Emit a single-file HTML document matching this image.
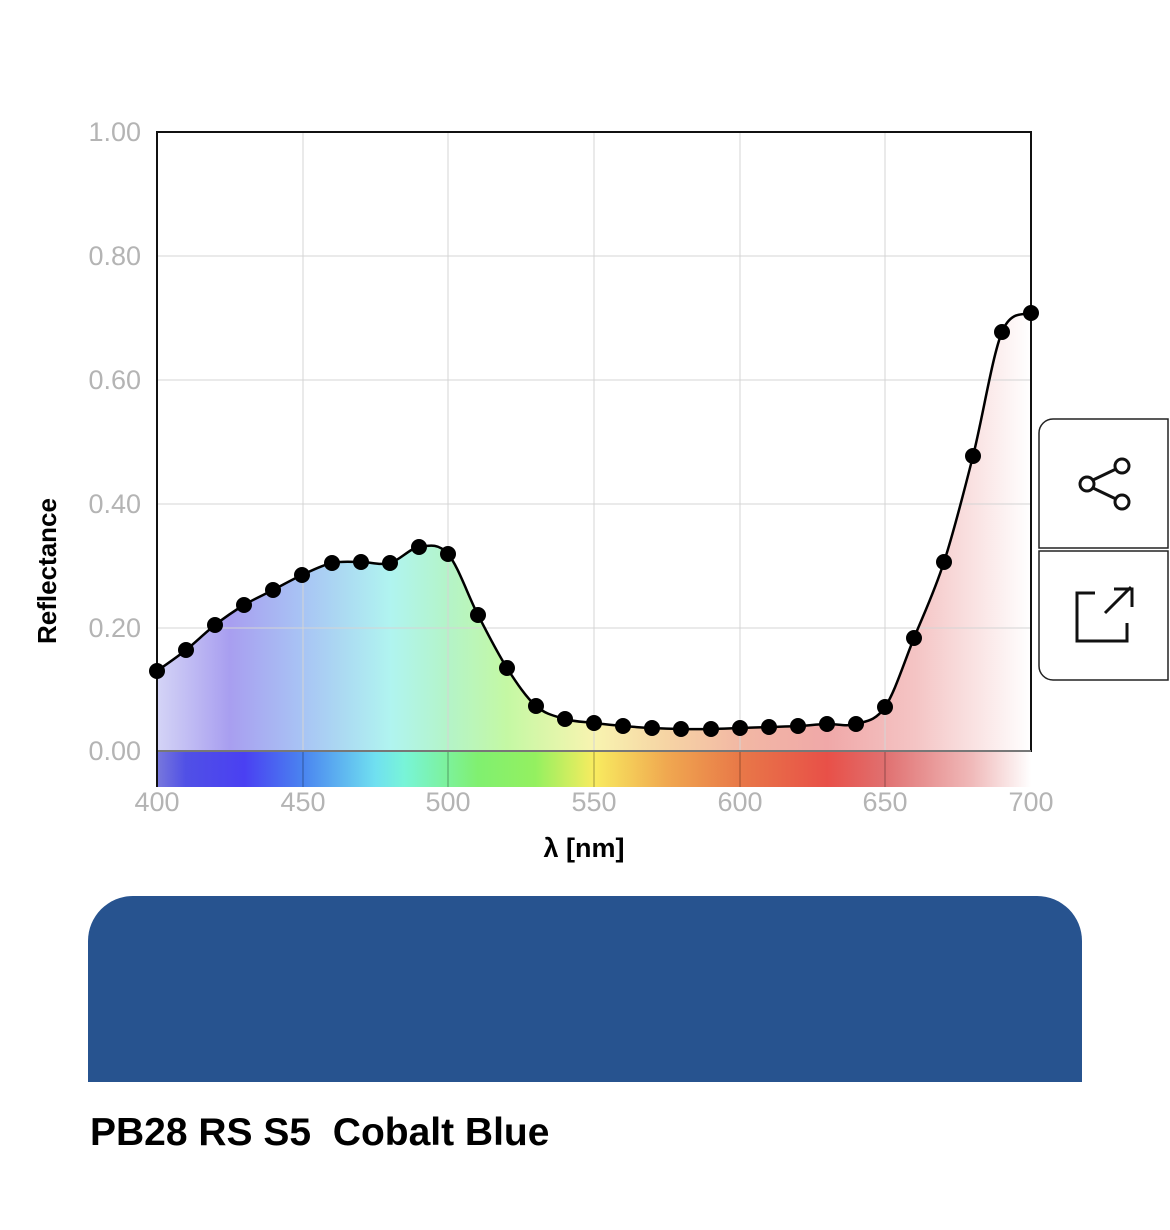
<!DOCTYPE html>
<html><head><meta charset="utf-8"><style>
html,body{margin:0;padding:0;background:#fff;width:1170px;height:1230px;overflow:hidden;font-family:"Liberation Sans",sans-serif}
</style></head><body>
<svg width="1170" height="1230" viewBox="0 0 1170 1230" xmlns="http://www.w3.org/2000/svg" style="position:absolute;left:0;top:0">
<defs>
<linearGradient id="fill" x1="157" x2="1031" y1="0" y2="0" gradientUnits="userSpaceOnUse">
<stop offset="0" stop-color="#d4d4f6"/><stop offset="0.083" stop-color="#a89ef0"/><stop offset="0.167" stop-color="#a8c4f4"/>
<stop offset="0.267" stop-color="#b0f4f0"/><stop offset="0.333" stop-color="#b4f4c8"/><stop offset="0.4" stop-color="#c4f8a4"/>
<stop offset="0.5" stop-color="#f8f4b0"/><stop offset="0.583" stop-color="#f6d4a4"/><stop offset="0.667" stop-color="#f2b8a4"/>
<stop offset="0.767" stop-color="#f0a8a8"/><stop offset="0.867" stop-color="#f4c4c4"/><stop offset="1" stop-color="#ffffff"/>
</linearGradient>
<linearGradient id="bar" x1="157" x2="1031" y1="0" y2="0" gradientUnits="userSpaceOnUse">
<stop offset="0" stop-color="#7878dc"/><stop offset="0.033" stop-color="#5050e6"/><stop offset="0.1" stop-color="#4a40f2"/>
<stop offset="0.167" stop-color="#4a84f0"/><stop offset="0.25" stop-color="#70e0f0"/><stop offset="0.283" stop-color="#78f4d8"/>
<stop offset="0.367" stop-color="#80f070"/><stop offset="0.433" stop-color="#94f060"/><stop offset="0.5" stop-color="#f8ec60"/>
<stop offset="0.583" stop-color="#f0a850"/><stop offset="0.667" stop-color="#e87848"/><stop offset="0.767" stop-color="#e85048"/>
<stop offset="0.833" stop-color="#e07070"/><stop offset="0.933" stop-color="#f0baba"/><stop offset="1" stop-color="#ffffff"/>
</linearGradient>
</defs>
<path id="area" fill="url(#fill)"/>
<g stroke="#d4d4d4" stroke-width="1">
<line x1="157" x2="1031" y1="256" y2="256"/><line x1="157" x2="1031" y1="380" y2="380"/>
<line x1="157" x2="1031" y1="504" y2="504"/><line x1="157" x2="1031" y1="628" y2="628"/>
<line x1="303" x2="303" y1="132" y2="751"/><line x1="448" x2="448" y1="132" y2="751"/>
<line x1="594" x2="594" y1="132" y2="751"/><line x1="740" x2="740" y1="132" y2="751"/>
<line x1="885" x2="885" y1="132" y2="751"/>
</g>
<rect x="157" y="752" width="874" height="35" fill="url(#bar)"/>
<g stroke="rgba(0,0,0,0.35)" stroke-width="1">
<line x1="303" x2="303" y1="752" y2="787"/><line x1="448" x2="448" y1="752" y2="787"/>
<line x1="594" x2="594" y1="752" y2="787"/><line x1="740" x2="740" y1="752" y2="787"/>
<line x1="885" x2="885" y1="752" y2="787"/>
</g>
<rect x="157" y="132" width="874" height="619" fill="none" stroke="#111" stroke-width="2"/>
<line x1="157" x2="1031" y1="751" y2="751" stroke="#777" stroke-width="2"/>
<line x1="157" x2="157" y1="132" y2="787" stroke="#111" stroke-width="2"/>
<path id="curve" fill="none" stroke="#000" stroke-width="2.5"/>
<g id="dots" fill="#000"></g>
<g font-size="27" fill="#b4b4b4" text-anchor="end">
<text x="141" y="141">1.00</text><text x="141" y="265">0.80</text><text x="141" y="389">0.60</text>
<text x="141" y="513">0.40</text><text x="141" y="637">0.20</text><text x="141" y="760">0.00</text>
</g>
<g font-size="27" fill="#b4b4b4" text-anchor="middle">
<text x="157" y="811">400</text><text x="303" y="811">450</text><text x="448" y="811">500</text>
<text x="594" y="811">550</text><text x="740" y="811">600</text><text x="885" y="811">650</text><text x="1031" y="811">700</text>
</g>
<text x="584" y="857" font-size="27" font-weight="bold" text-anchor="middle" fill="#000">λ [nm]</text>
<text transform="translate(56,571) rotate(-90)" font-size="26" font-weight="bold" text-anchor="middle" fill="#000">Reflectance</text>
<path d="M1053,419 H1168 V548 H1039 V433 A14,14 0 0 1 1053,419 Z" fill="#fff" stroke="#222" stroke-width="1.5"/>
<path d="M1039,551 H1168 V680 H1053 A14,14 0 0 1 1039,666 Z" fill="#fff" stroke="#222" stroke-width="1.5"/>
<g fill="none" stroke="#111" stroke-width="3">
<circle cx="1087" cy="484" r="7"/><circle cx="1122" cy="466" r="7"/><circle cx="1122" cy="502" r="7"/>
<line x1="1093" y1="480" x2="1116" y2="469"/><line x1="1093" y1="488" x2="1116" y2="499"/>
<path d="M1095,593 H1077 V641 H1127 V623"/><path d="M1105,613 L1131,587 M1114,589 H1132 V607"/>
</g>
<path d="M133,896 H1037 A45,45 0 0 1 1082,941 V1082 H88 V941 A45,45 0 0 1 133,896 Z" fill="#27538f"/>
<text x="90" y="1145" font-size="39" font-weight="bold" fill="#000" xml:space="preserve">PB28 RS S5  Cobalt Blue</text>
</svg>
<script>
var p=[[157,671],[186,650],[215,625],[244,605],[273,590],[302,575],[332,563],[361,562],[390,563],[419,547],[448,554],[478,615],[507,668],[536,706],[565,719],[594,723],[623,726],[652,728],[681,729],[711,729],[740,728],[769,727],[798,726],[827,724],[856,724],[885,707],[914,638],[944,562],[973,456],[1002,332],[1031,313]];
var d="M"+p[0][0]+","+p[0][1];
for(var i=0;i<p.length-1;i++){var p0=p[i-1]||p[i],p1=p[i],p2=p[i+1],p3=p[i+2]||p2;
d+=" C"+(p1[0]+(p2[0]-p0[0])/6)+","+(p1[1]+(p2[1]-p0[1])/6)+" "+(p2[0]-(p3[0]-p1[0])/6)+","+(p2[1]-(p3[1]-p1[1])/6)+" "+p2[0]+","+p2[1];}
document.getElementById("curve").setAttribute("d",d);
document.getElementById("area").setAttribute("d",d+" L1031,751 L157,751 Z");
var g=document.getElementById("dots"),s="";
p.forEach(function(q){s+='<circle cx="'+q[0]+'" cy="'+q[1]+'" r="8"/>';});g.innerHTML=s;
</script>
</body></html>
